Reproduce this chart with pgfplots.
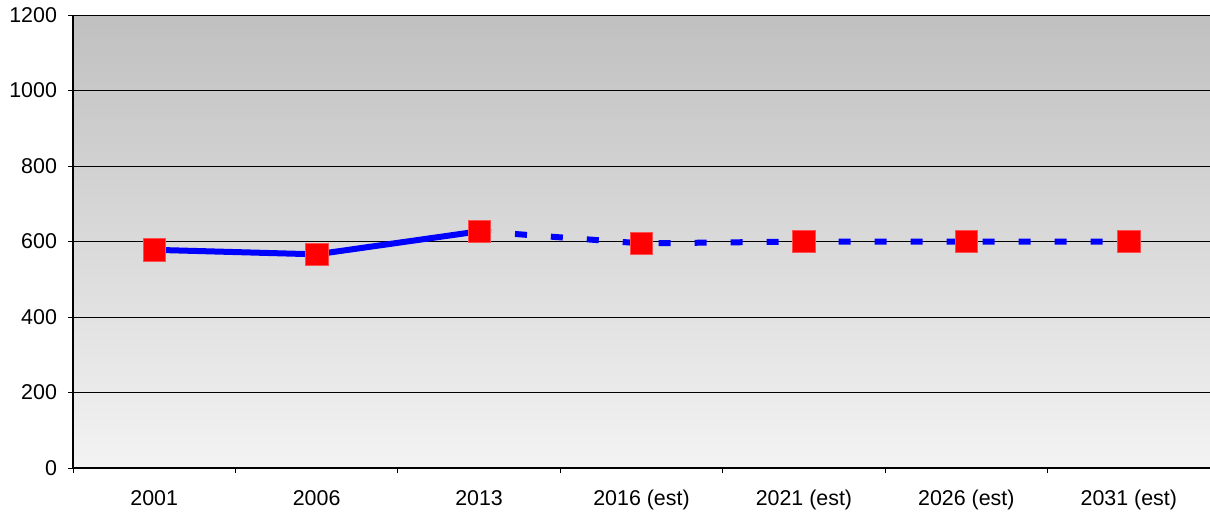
\documentclass[border=0pt]{standalone}
\usepackage{fontspec}
\setmainfont{Liberation Sans}
\usepackage{pgfplots}
\pgfplotsset{compat=1.18}
\usetikzlibrary{calc}
\definecolor{bgtop}{RGB}{192,192,192}
\definecolor{bgbot}{RGB}{243,243,243}
\definecolor{lineblue}{RGB}{0,0,255}
\definecolor{markred}{RGB}{255,0,0}
\begin{document}
\begin{tikzpicture}
\begin{axis}[
    name=ax,
    scale only axis,
    width=568.5pt, height=226.5pt,
    xmin=-0.5, xmax=6.5, ymin=0, ymax=1200,
    axis lines*=left,
    axis line style={black, line width=0.6pt},
    axis background/.style={shade, top color=bgtop, bottom color=bgbot},
    ytick={0,200,...,1200},
    xtick={0,...,6},
    xticklabels={2001,2006,2013,2016 (est),2021 (est),2026 (est),2031 (est)},
    minor xtick={-0.5,0.5,...,6.5},
    tick align=outside,
    major tick length=2.5pt, minor tick length=2.5pt,
    tick style={black, line width=0.5pt},
    major x tick style={draw=none},
    ymajorgrids,
    major grid style={black, line width=0.5pt},
    ticklabel style={font=\fontsize{10.7}{12}\selectfont},
    /pgf/number format/assume math mode=true,
    /pgf/number format/1000 sep={},
    xticklabel style={yshift=-5pt},
    yticklabel style={xshift=-2pt},
]
\addplot[lineblue, line width=3pt, line join=round] coordinates {(0,578) (1,566) (2,627)};
\addplot[lineblue, line width=3pt, dash pattern=on 6pt off 12pt] coordinates {(2,627) (3,595) (4,600) (5,600) (6,600)};
\addplot[only marks, mark=square*, mark size=5.6pt,
    mark options={fill=markred, draw=markred!70!white, line width=0.3pt}]
    coordinates {(0,578) (1,566) (2,627) (3,595) (4,600) (5,600) (6,600)};
\end{axis}
\pgfresetboundingbox
\path[use as bounding box] ($(ax.south west)+(-36.5pt,-24pt)$) rectangle ($(ax.north east)+(0,7.5pt)$);
\end{tikzpicture}
\end{document}
